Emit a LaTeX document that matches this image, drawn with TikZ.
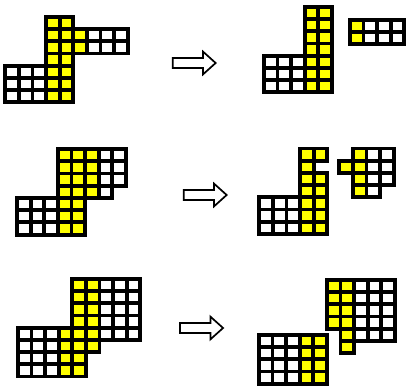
\documentclass[tikz,border=0pt]{standalone}
\usepackage{tikz}
\usetikzlibrary{shapes.arrows}
\definecolor{tileyellow}{RGB}{255,255,0}
% block of tiles: prefix, first col, last col, first row, last row, fill
\newcommand{\tiles}[6]{%
  \foreach \c in {#2,...,#3} {
    \foreach \r in {#4,...,#5} {
      \node[tile, fill=#6] (#1-\c-\r) at ({(\c+0.5)*13.6},{(\r+0.5)*12.2}) {};
    }
  }%
}

\begin{document}
\begin{tikzpicture}[x=1pt, y=-1pt,
  tile/.style={draw=black, line width=3.8pt, minimum width=13.6pt, minimum height=12.2pt, inner sep=0pt, outer sep=0pt},
  turn/.style={single arrow, draw=black, fill=white, line width=1.7pt, inner xsep=0pt, inner ysep=4.2pt,
    text height=0pt, text depth=0pt, minimum height=43pt, single arrow head extend=6.3pt,
    single arrow tip angle=84, anchor=tail}
]
\useasboundingbox (0,0) rectangle (409,387);
% first row
\begin{scope}[shift={(5.2,16.9)}]
  \tiles{a}{3}{4}{0}{6}{tileyellow}
  \tiles{a}{5}{5}{1}{2}{tileyellow}
  \tiles{a}{6}{8}{1}{2}{white}
  \tiles{a}{0}{2}{4}{6}{white}
\end{scope}
\node[turn] (turn1) at (171.8,63) {};
\begin{scope}[shift={(263.9,6.9)}]
  \tiles{b}{3}{4}{0}{6}{tileyellow}
  \tiles{b}{0}{2}{4}{6}{white}
\end{scope}
\begin{scope}[shift={(349.9,19.9)}]
  \tiles{bb}{0}{0}{0}{1}{tileyellow}
  \tiles{bb}{1}{3}{0}{1}{white}
\end{scope}
% second row
\begin{scope}[shift={(17,149.2)}]
  \tiles{c}{3}{5}{0}{3}{tileyellow}
  \tiles{c}{6}{7}{0}{2}{white}
  \tiles{c}{6}{6}{3}{3}{white}
  \tiles{c}{0}{2}{4}{6}{white}
  \tiles{c}{3}{4}{4}{6}{tileyellow}
\end{scope}
\node[turn] (turn2) at (182.8,195) {};
\begin{scope}[shift={(259.2,148.6)}]
  \tiles{d}{3}{3}{0}{6}{tileyellow}
  \tiles{d}{4}{4}{0}{0}{tileyellow}
  \tiles{d}{4}{4}{2}{6}{tileyellow}
  \tiles{d}{0}{2}{4}{6}{white}
\end{scope}
\begin{scope}[shift={(339.2,148.6)}]
  \tiles{dd}{1}{1}{0}{3}{tileyellow}
  \tiles{dd}{0}{0}{1}{1}{tileyellow}
  \tiles{dd}{2}{3}{0}{2}{white}
  \tiles{dd}{2}{2}{3}{3}{white}
\end{scope}
% third row
\begin{scope}[shift={(17.9,278.9)}]
  \tiles{e}{4}{5}{0}{5}{tileyellow}
  \tiles{e}{6}{8}{0}{4}{white}
  \tiles{e}{0}{2}{4}{7}{white}
  \tiles{e}{3}{3}{4}{7}{tileyellow}
  \tiles{e}{4}{4}{6}{7}{tileyellow}
\end{scope}
\node[turn] (turn3) at (179.2,328) {};
\begin{scope}[shift={(258.9,286.1)}]
  \tiles{f}{0}{2}{4}{7}{white}
  \tiles{f}{3}{4}{4}{7}{tileyellow}
\end{scope}
\begin{scope}[shift={(272.5,279.9)}]
  \tiles{ff}{4}{5}{0}{3}{tileyellow}
  \tiles{ff}{6}{8}{0}{4}{white}
  \tiles{ff}{5}{5}{4}{5}{tileyellow}
\end{scope}
\end{tikzpicture}
\end{document}
